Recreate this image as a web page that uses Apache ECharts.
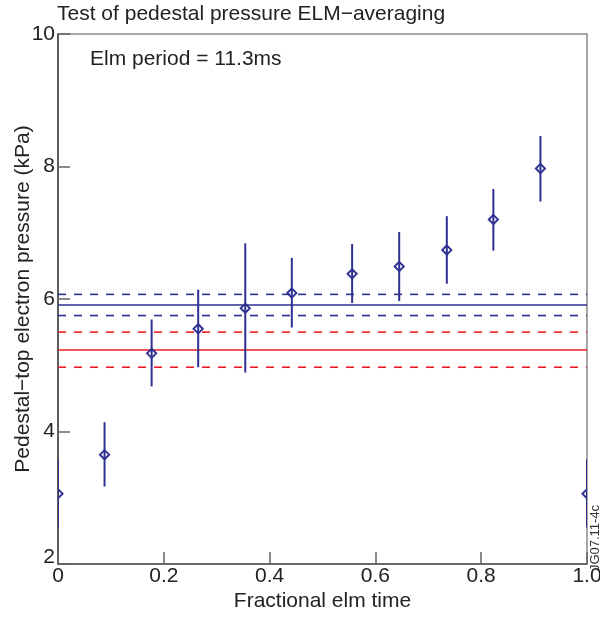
<!DOCTYPE html>
<html>
<head>
<meta charset="utf-8">
<script src="https://cdn.jsdelivr.net/npm/echarts@6/dist/echarts.min.js"></script>
<style>
html,body{margin:0;padding:0;background:#fff;}
#main{width:600px;height:617px;}
</style>
</head>
<body>
<div id="main"></div>
<script>
// Fractional elm time of each bin
var elmTime = [0, 0.088, 0.177, 0.265, 0.354, 0.442, 0.556, 0.645, 0.735, 0.823, 0.912, 1.0];
// Pedestal-top electron pressure (kPa)
var pressure = [3.06, 3.65, 5.18, 5.55, 5.86, 6.09, 6.38, 6.49, 6.74, 7.20, 7.97, 3.06];
var errLow   = [2.55, 3.17, 4.68, 4.97, 4.89, 5.57, 5.94, 5.97, 6.23, 6.73, 7.47, 2.55];
var errHigh  = [3.58, 4.14, 5.69, 6.14, 6.84, 6.62, 6.83, 7.01, 7.25, 7.66, 8.46, 3.58];
// Averages (solid) and their bands (dashed)
var blueMean = 5.91, blueUpper = 6.07, blueLower = 5.75;
var redMean = 5.23, redUpper = 5.50, redLower = 4.97;
var xTicks = [0, 0.2, 0.4, 0.6, 0.8, 1.0];
var yTicks = [2, 4, 6, 8, 10];

var BLUE = '#2e3192', RED = '#ee1c25';
var FONT = '"Liberation Sans", Arial, Helvetica, sans-serif';

var points = elmTime.map(function (t, i) { return [t, pressure[i], errLow[i], errHigh[i]]; });
function hline(v) { return [[xTicks[0], v], [xTicks[xTicks.length - 1], v]]; }
function lineSeries(v, color, dashed) {
  return {
    type: 'line', data: hline(v), showSymbol: false, silent: true,
    lineStyle: { color: color, width: 1.6, type: dashed ? [8, 8] : 'solid' },
    z: 2
  };
}

var chart = echarts.init(document.getElementById('main'), null, { renderer: 'canvas' });
chart.setOption({
  animation: false,
  textStyle: { fontFamily: FONT },
  grid: {
    left: 58, right: 13, top: 34, bottom: 53,
    containLabel: false, outerBoundsMode: 'none',
    show: true, borderColor: '#8a8a8a', borderWidth: 1.5
  },
  xAxis: {
    type: 'value', min: xTicks[0], max: xTicks[xTicks.length - 1], interval: 0.2,
    name: 'Fractional elm time', nameLocation: 'middle', nameGap: 27, nameMoveOverlap: false,
    nameTextStyle: { fontSize: 21, color: '#222', fontFamily: FONT },
    axisLine: { show: true, onZero: false, lineStyle: { color: '#555', width: 1.5 } },
    axisTick: { show: true, inside: true, length: 12, lineStyle: { color: '#666', width: 1.5 } },
    splitLine: { show: false },
    axisLabel: {
      fontSize: 21, color: '#222', margin: 2, fontFamily: FONT, hideOverlap: false,
      formatter: function (v) { return v === 0 ? '0' : v.toFixed(1); }
    }
  },
  yAxis: {
    type: 'value', min: yTicks[0], max: yTicks[yTicks.length - 1], interval: 2,
    name: 'Pedestal\u2212top electron pressure (kPa)', nameLocation: 'middle', nameGap: 24, nameMoveOverlap: false,
    nameTextStyle: { fontSize: 21, color: '#222', fontFamily: FONT },
    axisLine: { show: true, onZero: false, lineStyle: { color: '#444', width: 1.5 } },
    axisTick: { show: true, inside: true, length: 12, lineStyle: { color: '#666', width: 1.5 } },
    splitLine: { show: false },
    axisLabel: {
      fontSize: 21, color: '#222', margin: 3, fontFamily: FONT, hideOverlap: false,
      formatter: function (v) { return v === 2 ? '{b|' + v + '}' : '{a|' + v + '}'; },
      rich: {
        a: { fontSize: 21, color: '#222', fontFamily: FONT },
        b: { fontSize: 21, color: '#222', fontFamily: FONT, padding: [0, 0, 13, 0] }
      }
    }
  },
  graphic: [
    { type: 'text', left: 57, top: 4, style: { text: 'Test of pedestal pressure ELM\u2212averaging', fontSize: 21, fill: '#222', fontFamily: FONT } },
    { type: 'text', left: 90, top: 49, style: { text: 'Elm period = 11.3ms', fontSize: 21, fill: '#222', fontFamily: FONT } },
    { type: 'text', x: 595.5, y: 538, rotation: Math.PI / 2,
      style: { text: 'JG07.11-4c', fontSize: 13, fill: '#333', align: 'center', verticalAlign: 'middle', fontFamily: FONT } }
  ],
  series: [
    lineSeries(redUpper, RED, true),
    lineSeries(redMean, RED, false),
    lineSeries(redLower, RED, true),
    lineSeries(blueUpper, BLUE, true),
    lineSeries(blueMean, BLUE, false),
    lineSeries(blueLower, BLUE, true),
    {
      type: 'custom', clip: true, z: 3,
      data: points,
      encode: { x: 0, y: [1, 2, 3] },
      renderItem: function (params, api) {
        var x = api.value(0);
        var c = api.coord([x, api.value(1)]);
        var lo = api.coord([x, api.value(2)]);
        var hi = api.coord([x, api.value(3)]);
        var s = 4.6;
        return {
          type: 'group',
          children: [
            { type: 'line', shape: { x1: hi[0], y1: hi[1], x2: lo[0], y2: lo[1] }, style: { stroke: BLUE, lineWidth: 2 } },
            { type: 'polygon', shape: { points: [[c[0], c[1] - s], [c[0] + s, c[1]], [c[0], c[1] + s], [c[0] - s, c[1]]] },
              style: { stroke: BLUE, lineWidth: 1.9, fill: 'none' } }
          ]
        };
      }
    }
  ]
});
</script>
</body>
</html>
